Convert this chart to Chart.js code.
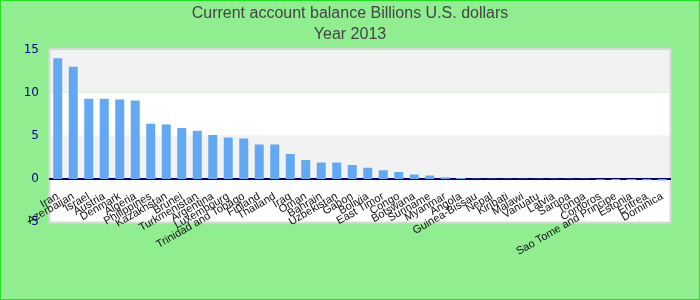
<!DOCTYPE html>
<html>
<head>
<meta charset="utf-8">
<script src="https://cdn.jsdelivr.net/npm/chart.js"></script>
<style>
html, body { margin: 0; padding: 0; }
#wrap { width: 700px; height: 300px; box-sizing: border-box; border: 1px solid #22e022; background: #90ee90; }
canvas { display: block; }
</style>
</head>
<body>
<div id="wrap"><canvas id="chart" width="698" height="298"></canvas></div>
<script>
// Current account balance, billions of U.S. dollars, 2013
var countries = ["Iran", "Azerbaijan", "Israel", "Austria", "Denmark", "Algeria", "Philippines",
    "Kazakhstan", "Brunei", "Turkmenistan", "Argentina", "Luxembourg", "Trinidad and Tobago",
    "Finland", "Thailand", "Iraq", "Oman", "Bahrain", "Uzbekistan", "Gabon", "Bolivia",
    "East Timor", "Congo", "Botswana", "Suriname", "Myanmar", "Angola", "Guinea-Bissau",
    "Nepal", "Kiribati", "Malawi", "Vanuatu", "Latvia", "Samoa", "Tonga", "Comoros",
    "Sao Tome and Principe", "Estonia", "Eritrea", "Dominica"];
var balance = [14.0, 13.0, 9.3, 9.3, 9.2, 9.1, 6.4,
    6.3, 5.9, 5.6, 5.1, 4.8, 4.7,
    4.0, 4.0, 2.9, 2.2, 1.9, 1.9, 1.6, 1.3,
    1.0, 0.8, 0.5, 0.4, 0.2, 0.1, 0.02,
    0.01, 0.01, 0.01, 0.01, 0.01, 0.01, 0.01, -0.1,
    -0.12, -0.14, -0.16, -0.18];
var yTicks = [-5, 0, 5, 10, 15];

Chart.defaults.font.family = "'Liberation Sans', Arial, sans-serif";

// alternating bands behind the bars, plus the light frame
var bandPlugin = {
    id: 'bands',
    beforeDraw: function (chart) {
        var ctx = chart.ctx, area = chart.chartArea, y = chart.scales.y;
        ctx.save();
        for (var i = 0; i < yTicks.length - 1; i++) {
            var top = y.getPixelForValue(yTicks[i + 1]);
            var bottom = y.getPixelForValue(yTicks[i]);
            ctx.fillStyle = i % 2 ? '#f2f2f2' : '#ffffff';
            ctx.fillRect(area.left, top, area.right - area.left, bottom - top);
        }
        ctx.strokeStyle = '#d9d9d9';
        ctx.lineWidth = 2;
        ctx.strokeRect(area.left - 0.5, area.top - 0.5, area.right - area.left + 1, area.bottom - area.top + 1);
        ctx.restore();
    }
};

var ctx = document.getElementById('chart').getContext('2d');
var chart = new Chart(ctx, {
    type: 'bar',
    data: {
        labels: countries,
        datasets: [{
            data: balance,
            yAxisID: 'y',
            backgroundColor: '#62a8f3',
            categoryPercentage: 1,
            barPercentage: 0.58
        }]
    },
    options: {
        responsive: false,
        animation: false,
        layout: { padding: { left: 0, right: 0, top: 0, bottom: 77 } },
        plugins: {
            legend: { display: false },
            tooltip: { enabled: false },
            title: {
                display: true,
                text: ['Current account balance Billions U.S. dollars', 'Year 2013'],
                color: '#444444',
                font: { size: 16, weight: 'normal', lineHeight: 1.3 },
                padding: { top: 2, bottom: 5 }
            }
        },
        scales: {
            x: {
                position: { y: 0 },
                z: 1,
                grid: { display: false, drawTicks: false },
                border: { display: true, color: '#000080', width: 2 },
                ticks: {
                    autoSkip: false,
                    minRotation: 30,
                    maxRotation: 30,
                    padding: 11,
                    color: '#111111',
                    font: { size: 11 }
                }
            },
            y: {
                min: -5,
                max: 15,
                grid: { display: false, drawTicks: false },
                border: { display: false },
                afterFit: function (scale) { scale.width = 49; },
                ticks: {
                    stepSize: 5,
                    padding: 11,
                    color: '#000099',
                    font: { family: "'DejaVu Sans', sans-serif", size: 12 }
                }
            },
            // empty right-hand axis that only reserves the margin, so the title stays centred
            spacer: {
                axis: 'y',
                position: 'right',
                grid: { display: false, drawTicks: false },
                border: { display: false },
                ticks: { display: false },
                afterFit: function (scale) { scale.width = 29; }
            }
        }
    },
    plugins: [bandPlugin]
});
</script>
</body>
</html>
